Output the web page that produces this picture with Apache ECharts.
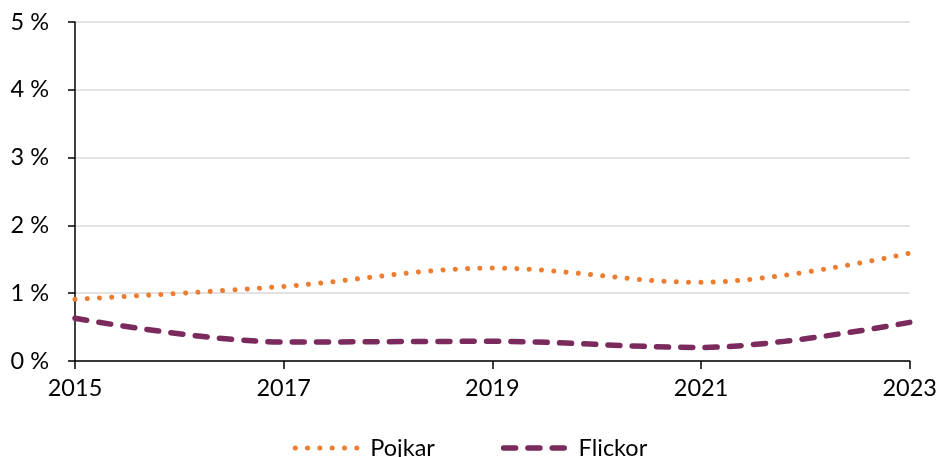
<!DOCTYPE html>
<html>
<head>
<meta charset="utf-8">
<script src="https://cdn.jsdelivr.net/npm/echarts@6/dist/echarts.min.js"></script>
<style>
  html, body { margin: 0; padding: 0; background: #fff; }
  #chart { width: 940px; height: 457px; }
</style>
</head>
<body>
<div id="chart"></div>
<script>
// Survey years and share per group (percent)
const years = ['2015', '2017', '2019', '2021', '2023'];
const pojkar = [0.91, 1.10, 1.37, 1.16, 1.59];
const flickor = [0.63, 0.28, 0.29, 0.20, 0.57];
const yTicks = { min: 0, max: 5, step: 1 };

const font = 'Lato, "Open Sans", sans-serif';
const orange = '#ED7D31';
const plum = '#7A2A5C';
const dotted = { width: 5, type: [0.01, 12.3], cap: 'round' };
const dashed = { width: 5.5, type: [12, 12.3], cap: 'round' };

const chart = echarts.init(document.getElementById('chart'), null, { renderer: 'canvas' });
chart.setOption({
  animation: false,
  backgroundColor: '#ffffff',
  textStyle: { fontFamily: font },
  grid: { left: 75, right: 29, top: 22, bottom: 96, containLabel: false },
  xAxis: {
    type: 'category',
    data: years,
    boundaryGap: false,
    axisLine: { lineStyle: { color: '#000', width: 1.5 } },
    axisTick: { show: true, length: 8, alignWithLabel: true, lineStyle: { color: '#000', width: 1.5 } },
    axisLabel: { color: '#000', fontSize: 23.5, fontFamily: font, margin: 15 },
    splitLine: { show: false }
  },
  yAxis: {
    type: 'value',
    min: yTicks.min,
    max: yTicks.max,
    interval: yTicks.step,
    axisLine: { show: true, lineStyle: { color: '#000', width: 1.5 } },
    axisTick: { show: true, length: 7, lineStyle: { color: '#000', width: 1.5 } },
    axisLabel: { color: '#000', fontSize: 23.5, fontFamily: font, margin: 26, formatter: '{value} %' },
    splitLine: { show: true, lineStyle: { color: '#d9d9d9', width: 1.5 } }
  },
  legend: {
    top: 431,
    left: 'center',
    itemWidth: 64,
    itemHeight: 14,
    itemGap: 66,
    textStyle: { color: '#000', fontSize: 23.5, fontFamily: font, padding: [0, 0, 0, 6] },
    data: [
      { name: 'Pojkar', itemStyle: { opacity: 0 }, lineStyle: Object.assign({ color: orange }, dotted) },
      { name: 'Flickor', itemStyle: { opacity: 0 }, lineStyle: Object.assign({ color: plum }, dashed) }
    ]
  },
  series: [
    {
      name: 'Pojkar',
      type: 'line',
      data: pojkar,
      smooth: 0.35,
      showSymbol: false,
      symbol: 'none',
      color: orange,
      lineStyle: Object.assign({ color: orange }, dotted)
    },
    {
      name: 'Flickor',
      type: 'line',
      data: flickor,
      smooth: 0.35,
      showSymbol: false,
      symbol: 'none',
      color: plum,
      lineStyle: Object.assign({ color: plum }, dashed)
    }
  ]
});
</script>
</body>
</html>
